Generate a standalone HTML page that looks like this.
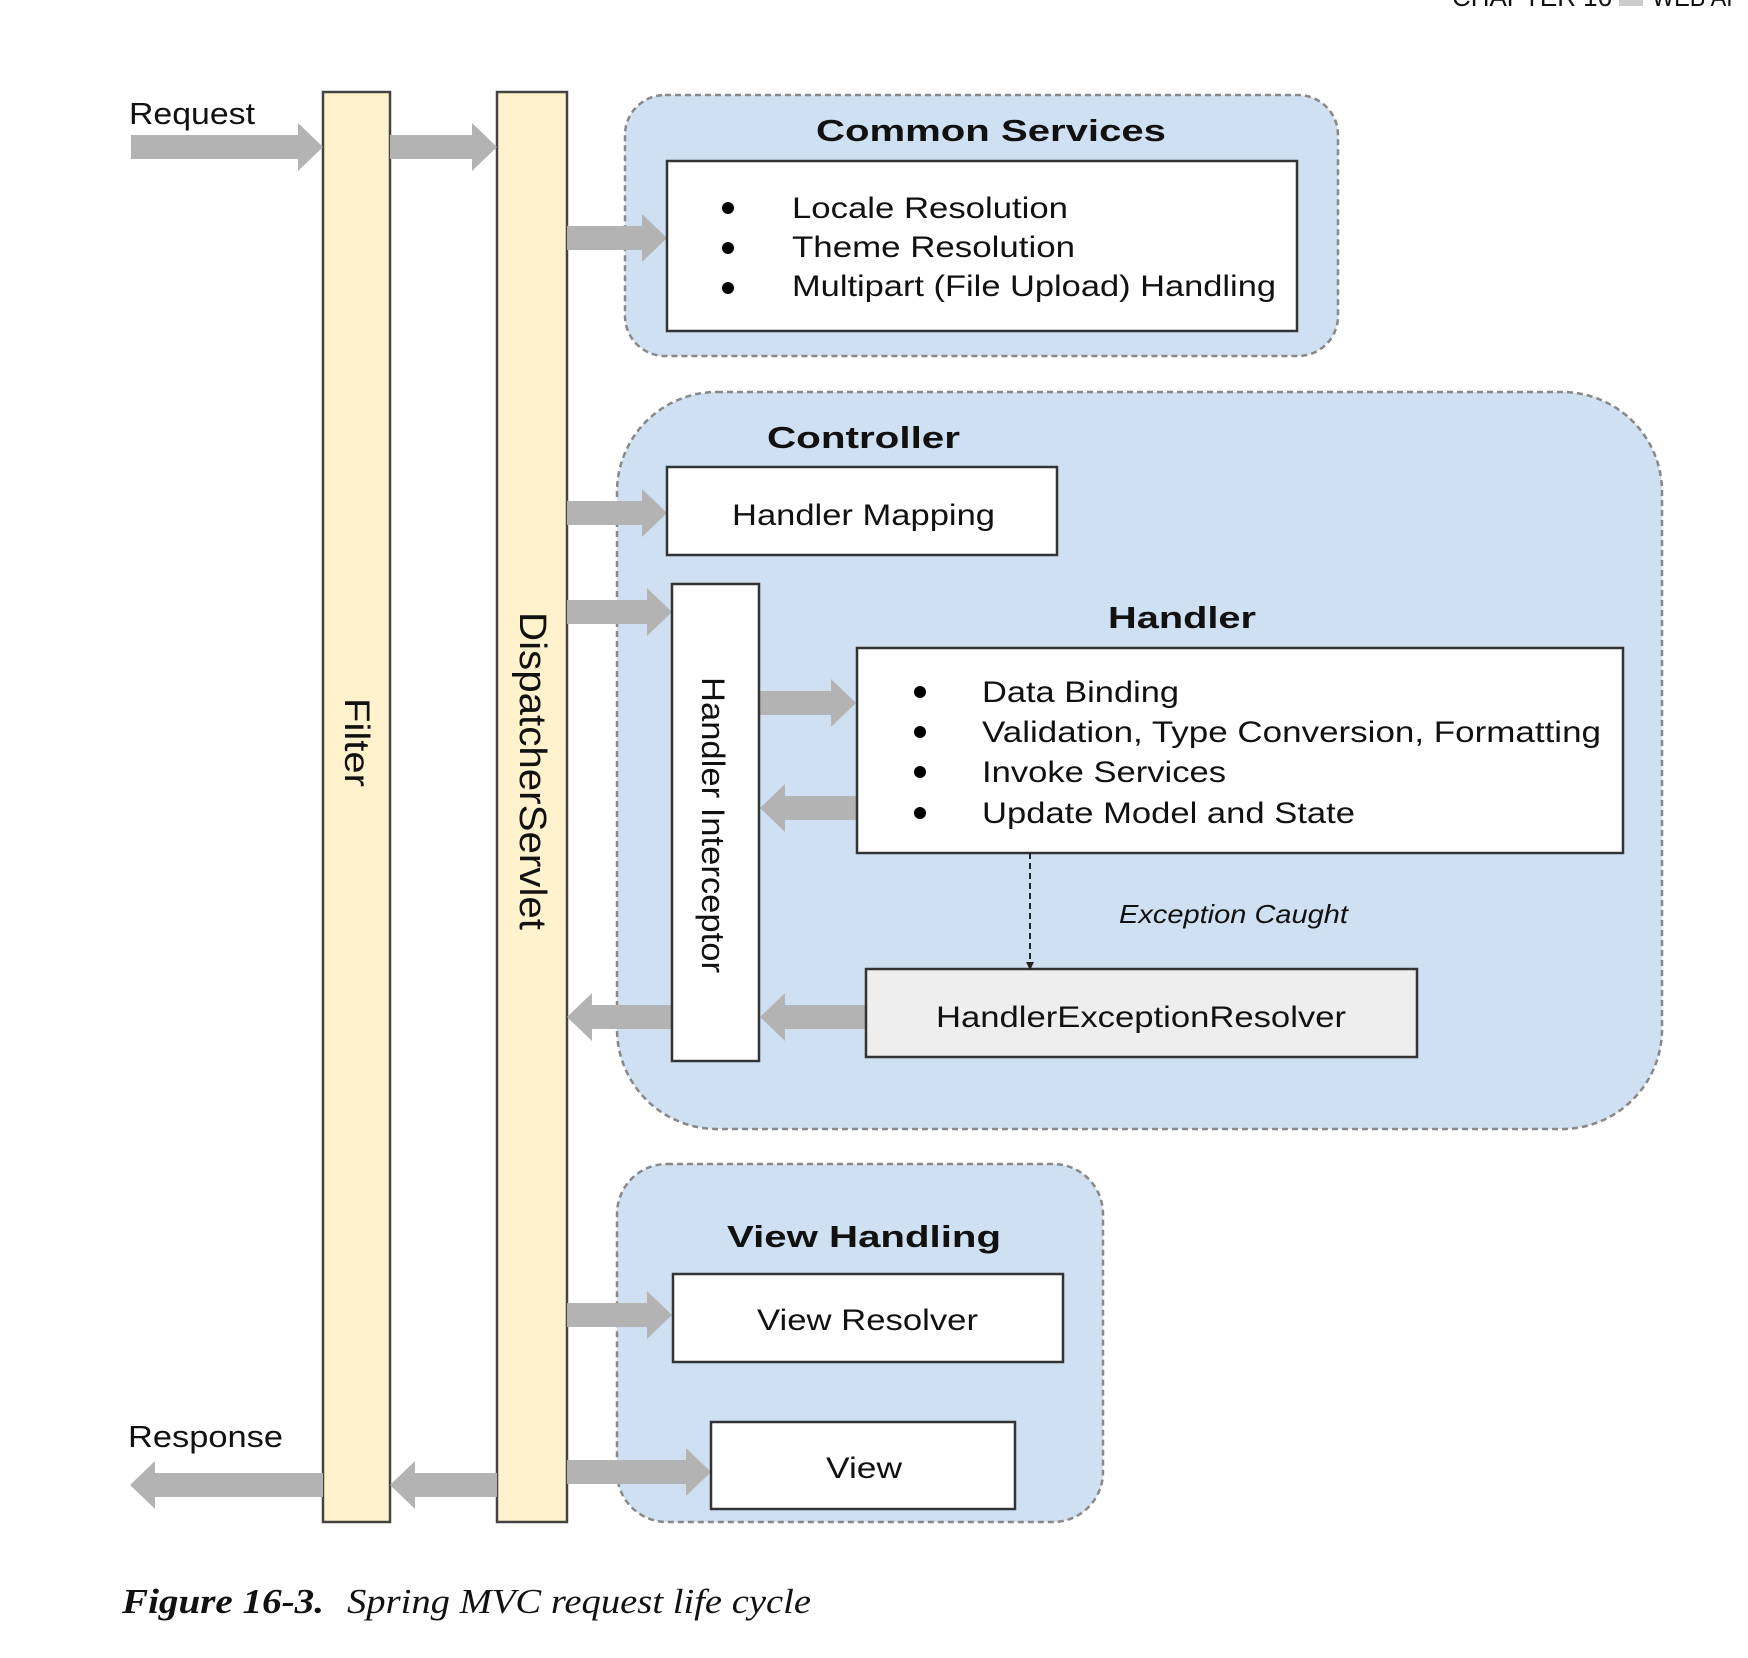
<!DOCTYPE html>
<html><head><meta charset="utf-8"><style>
html,body{margin:0;padding:0;background:#fff;}
svg{display:block;}
text{font-family:"Liberation Sans",Arial,sans-serif;fill:#111;}
</style></head><body>
<svg width="1748" height="1658" viewBox="0 0 1748 1658" xmlns="http://www.w3.org/2000/svg">
<defs>
<g id="ar"><path d="M0,0 L-25,-24 L-25,24 Z"/></g>
</defs>
<!-- header -->
<text x="1452" y="6" font-size="26" fill="#222" textLength="160" lengthAdjust="spacingAndGlyphs">CHAPTER 16</text>
<rect x="1619" y="-10" width="24" height="16" fill="#ccc"/>
<text x="1652" y="6" font-size="26" fill="#222" textLength="90" lengthAdjust="spacingAndGlyphs">WEB AP</text>

<!-- containers -->
<rect x="625" y="95" width="713" height="261" rx="40" ry="40" fill="#cfe0f2" stroke="#888" stroke-width="2.5" stroke-dasharray="6,4"/>
<rect x="617" y="392" width="1045" height="737" rx="100" ry="100" fill="#cfe0f2" stroke="#888" stroke-width="2.5" stroke-dasharray="6,4"/>
<rect x="617" y="1164" width="486" height="358" rx="50" ry="50" fill="#cfe0f2" stroke="#888" stroke-width="2.5" stroke-dasharray="6,4"/>

<!-- bars -->
<rect x="323" y="92" width="67" height="1430" fill="#fff2cc" stroke="#444" stroke-width="2.5"/>
<rect x="497" y="92" width="70" height="1430" fill="#fff2cc" stroke="#444" stroke-width="2.5"/>

<!-- arrows -->
<g fill="#b3b3b3">
 <rect x="131" y="135" width="168" height="24"/><use href="#ar" x="323" y="147"/>
 <rect x="390" y="135" width="84" height="24"/><use href="#ar" x="497" y="147"/>
 <rect x="567" y="226" width="77" height="24"/><use href="#ar" x="667" y="238"/>
 <rect x="567" y="501" width="77" height="24"/><use href="#ar" x="667" y="513"/>
 <rect x="567" y="600" width="82" height="24"/><use href="#ar" x="672" y="612"/>
 <rect x="760" y="691" width="73" height="24"/><use href="#ar" x="856" y="703"/>
 <rect x="567" y="1303" width="82" height="24"/><use href="#ar" x="672" y="1315"/>
 <rect x="567" y="1460" width="121" height="24"/><use href="#ar" x="711" y="1472"/>
 <rect x="783" y="796" width="75" height="24"/><use href="#ar" transform="translate(760,808) scale(-1,1)"/>
 <rect x="590" y="1005" width="82" height="24"/><use href="#ar" transform="translate(567,1017) scale(-1,1)"/>
 <rect x="783" y="1005" width="83" height="24"/><use href="#ar" transform="translate(760,1017) scale(-1,1)"/>
 <rect x="413" y="1473" width="84" height="24"/><use href="#ar" transform="translate(390,1485) scale(-1,1)"/>
 <rect x="153" y="1473" width="170" height="24"/><use href="#ar" transform="translate(130,1485) scale(-1,1)"/>
</g>

<!-- boxes -->
<rect x="667" y="161" width="630" height="170" fill="#fff" stroke="#333" stroke-width="2.5"/>
<rect x="667" y="467" width="390" height="88" fill="#fff" stroke="#333" stroke-width="2.5"/>
<rect x="672" y="584" width="87" height="477" fill="#fff" stroke="#333" stroke-width="2.5"/>
<rect x="857" y="648" width="766" height="205" fill="#fff" stroke="#333" stroke-width="2.5"/>
<rect x="866" y="969" width="551" height="88" fill="#eeeeee" stroke="#333" stroke-width="2.5"/>
<rect x="673" y="1274" width="390" height="88" fill="#fff" stroke="#333" stroke-width="2.5"/>
<rect x="711" y="1422" width="304" height="87" fill="#fff" stroke="#333" stroke-width="2.5"/>

<!-- dashed connector -->
<line x1="1030" y1="853" x2="1030" y2="962" stroke="#222" stroke-width="2" stroke-dasharray="6,4"/>
<path d="M1026,962 L1034,962 L1030,970 Z" fill="#222"/>

<!-- titles -->
<text x="816" y="141" font-size="31" font-weight="bold" textLength="350" lengthAdjust="spacingAndGlyphs">Common Services</text>
<text x="767" y="448" font-size="31" font-weight="bold" textLength="193" lengthAdjust="spacingAndGlyphs">Controller</text>
<text x="1108" y="628" font-size="31" font-weight="bold" textLength="148" lengthAdjust="spacingAndGlyphs">Handler</text>
<text x="727" y="1247" font-size="31" font-weight="bold" textLength="274" lengthAdjust="spacingAndGlyphs">View Handling</text>

<g font-size="30">
<circle cx="728" cy="208" r="6" fill="#000"/><circle cx="728" cy="248" r="6" fill="#000"/><circle cx="728" cy="288" r="6" fill="#000"/>
<text x="792" y="218" textLength="276" lengthAdjust="spacingAndGlyphs">Locale Resolution</text>
<text x="792" y="257" textLength="283" lengthAdjust="spacingAndGlyphs">Theme Resolution</text>
<text x="792" y="296" textLength="484" lengthAdjust="spacingAndGlyphs">Multipart (File Upload) Handling</text>

<text x="732" y="525" textLength="263" lengthAdjust="spacingAndGlyphs">Handler Mapping</text>

<circle cx="920" cy="692" r="6" fill="#000"/><circle cx="920" cy="732" r="6" fill="#000"/><circle cx="920" cy="772" r="6" fill="#000"/><circle cx="920" cy="813" r="6" fill="#000"/>
<text x="982" y="702" textLength="197" lengthAdjust="spacingAndGlyphs">Data Binding</text>
<text x="982" y="742" textLength="619" lengthAdjust="spacingAndGlyphs">Validation, Type Conversion, Formatting</text>
<text x="982" y="782" textLength="244" lengthAdjust="spacingAndGlyphs">Invoke Services</text>
<text x="982" y="823" textLength="373" lengthAdjust="spacingAndGlyphs">Update Model and State</text>

<text x="936" y="1027" textLength="410" lengthAdjust="spacingAndGlyphs">HandlerExceptionResolver</text>
<text x="757" y="1330" textLength="221" lengthAdjust="spacingAndGlyphs">View Resolver</text>
<text x="826" y="1478" textLength="76" lengthAdjust="spacingAndGlyphs">View</text>
</g>
<text x="1119" y="923" font-size="26" font-style="italic" fill="#333" textLength="229" lengthAdjust="spacingAndGlyphs">Exception Caught</text>

<text x="129" y="124" font-size="31" fill="#222" textLength="126" lengthAdjust="spacingAndGlyphs">Request</text>
<text x="128" y="1447" font-size="31" fill="#222" textLength="155" lengthAdjust="spacingAndGlyphs">Response</text>

<text x="345" y="698" font-size="35" transform="rotate(90 345 698)" textLength="89" lengthAdjust="spacingAndGlyphs">Filter</text>
<text x="520" y="612" font-size="38" transform="rotate(90 520 612)" textLength="318" lengthAdjust="spacingAndGlyphs">DispatcherServlet</text>
<text x="702" y="677" font-size="32" transform="rotate(90 702 677)" textLength="296" lengthAdjust="spacingAndGlyphs">Handler Interceptor</text>

<text x="122" y="1613" font-size="35" font-weight="bold" font-style="italic" style="font-family:'Liberation Serif',serif" textLength="202" lengthAdjust="spacingAndGlyphs">Figure 16-3.</text>
<text x="347" y="1613" font-size="35" font-style="italic" style="font-family:'Liberation Serif',serif" textLength="464" lengthAdjust="spacingAndGlyphs">Spring MVC request life cycle</text>
</svg>
</body></html>
